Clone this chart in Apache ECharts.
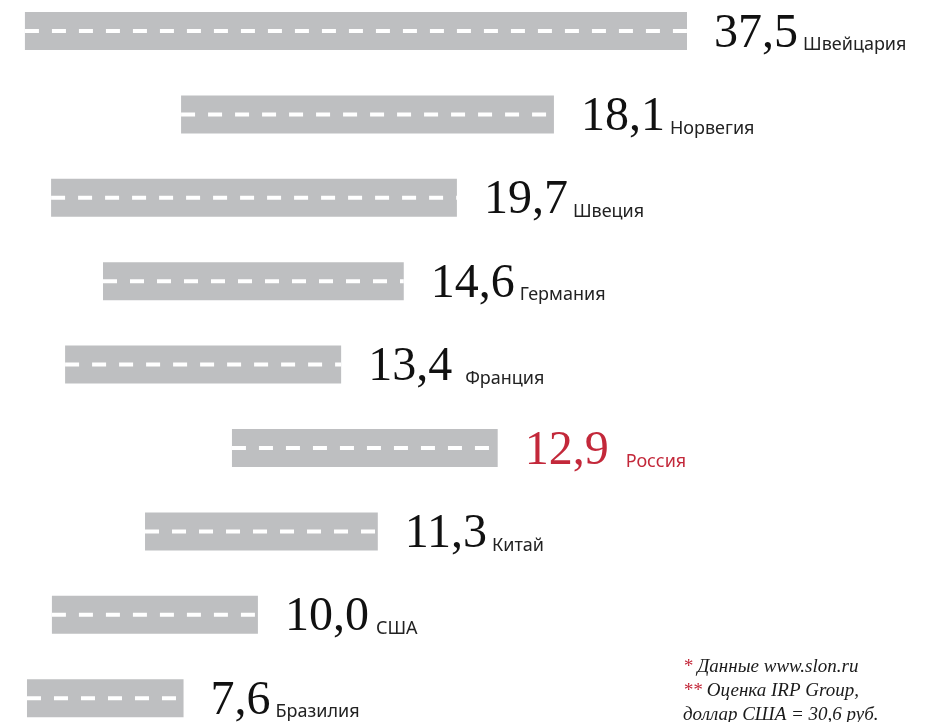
<!DOCTYPE html>
<html>
<head>
<meta charset="utf-8">
<script src="https://cdn.jsdelivr.net/npm/echarts@6/dist/echarts.min.js"></script>
<style>
  html, body { margin: 0; padding: 0; background: #ffffff; }
  #chart { width: 940px; height: 722px; }
</style>
</head>
<body>
<div id="chart"></div>
<script>
// ---- data ----
const countries = ['Швейцария', 'Норвегия', 'Швеция', 'Германия', 'Франция', 'Россия', 'Китай', 'США', 'Бразилия'];
const values    = [37.5, 18.1, 19.7, 14.6, 13.4, 12.9, 11.3, 10.0, 7.6];
const valueLabels = ['37,5', '18,1', '19,7', '14,6', '13,4', '12,9', '11,3', '10,0', '7,6'];
// where each "road" starts on the value axis (the staggered layout of the original)
const offsets   = [1.21, 8.79, 2.48, 5.0, 3.16, 11.26, 7.04, 2.52, 1.31];
// the Swiss bar is drawn truncated in the original
const barCap = 32.14;
const highlight = 'Россия';
const footnotes = [
  ['*', ' Данные www.slon.ru'],
  ['**', ' Оценка IRP Group,'],
  ['', 'доллар США = 30,6 руб.']
];

// ---- styles ----
const RED = '#c3283a';
const nameGap = [5, 5, 5, 5, 13, 17, 5, 7, 5];

const chart = echarts.init(document.getElementById('chart'), null, { renderer: 'canvas' });

const seriesData = countries.map((c, i) => [offsets[i], i, Math.min(values[i], barCap), values[i]]);

const option = {
  backgroundColor: '#ffffff',
  animation: false,
  grid: { left: 0, width: 824, top: 0, height: 722, containLabel: false },
  xAxis: { type: 'value', min: 0, max: 40, show: false },
  // row index axis (row 0 at the top); range chosen to reproduce the row pitch of the original
  yAxis: { type: 'value', inverse: true, min: -0.3717, max: 8.2854, show: false },
  series: [{
    type: 'custom',
    clip: false,
    data: seriesData,
    renderItem: function (params, api) {
      const i = api.value(1);
      const s = api.coord([api.value(0), i]);
      const e = api.coord([api.value(0) + api.value(2), i]);
      const h = 38;
      const isHi = countries[i] === highlight;
      const col = isHi ? RED : '#111111';
      const nameCol = isHi ? RED : '#222222';
      return {
        type: 'group',
        children: [
          { type: 'rect', shape: { x: s[0], y: s[1] - h / 2, width: e[0] - s[0], height: h },
            style: { fill: '#bebfc1' } },
          { type: 'line', shape: { x1: s[0], y1: s[1], x2: e[0], y2: s[1] },
            style: { stroke: '#ffffff', lineWidth: 4, lineDash: [14, 13], lineDashOffset: 0 } },
          { type: 'text', x: e[0] + 27, y: s[1] + 27,
            style: {
              text: '{n|' + valueLabels[i] + '}{c|' + countries[i] + '}',
              verticalAlign: 'bottom', align: 'left',
              rich: {
                n: { fontFamily: 'Liberation Serif', fontSize: 48, lineHeight: 48, fill: col, verticalAlign: 'bottom' },
                c: { fontFamily: 'Noto Sans', fontSize: 18, lineHeight: 22, fill: nameCol, verticalAlign: 'bottom', padding: [0, 0, 4, nameGap[i]] }
              }
            }
          }
        ]
      };
    }
  }],
  graphic: footnotes.map((f, k) => ({
    type: 'text',
    left: 683,
    top: 657 + k * 24,
    style: {
      text: (f[0] ? '{r|' + f[0] + '}' : '') + '{t|' + f[1] + '}',
      rich: {
        r: { fontFamily: 'Liberation Serif', fontStyle: 'italic', fontSize: 19, fill: RED },
        t: { fontFamily: 'Liberation Serif', fontStyle: 'italic', fontSize: 19, fill: '#1a1a1a' }
      }
    }
  }))
};

chart.setOption(option);
</script>
</body>
</html>
